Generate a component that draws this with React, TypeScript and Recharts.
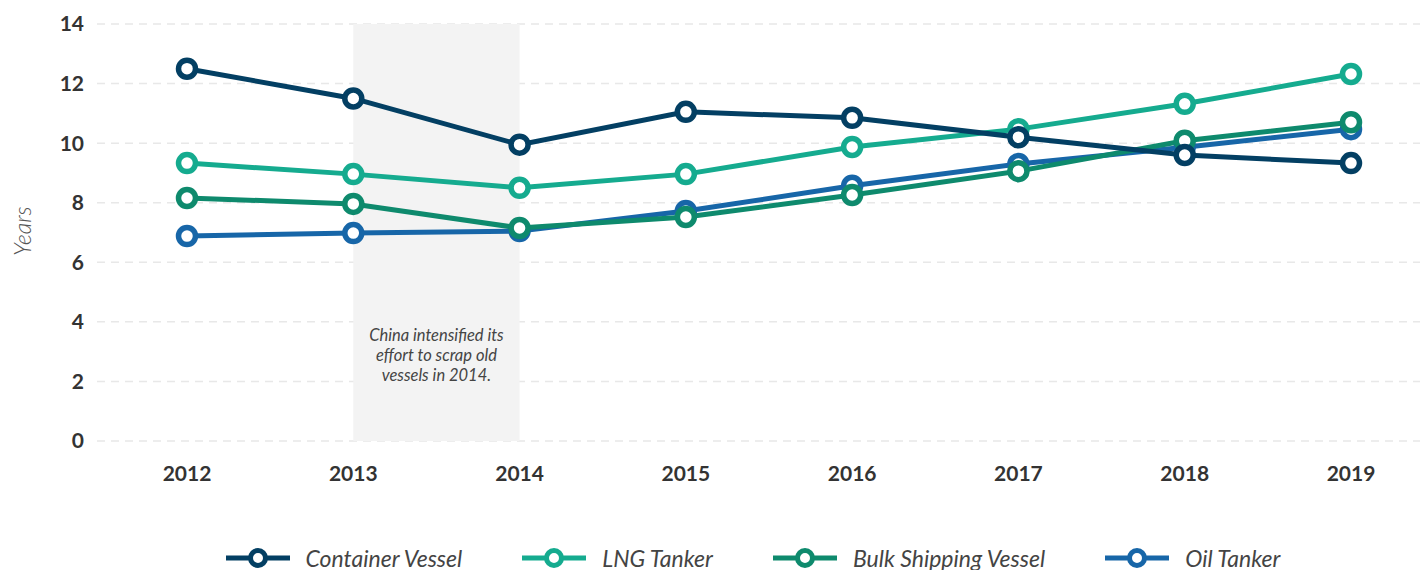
import {
  CartesianGrid,
  Legend,
  Line,
  LineChart,
  ReferenceArea,
  XAxis,
  YAxis
} from "recharts";

const years = ["2012", "2013", "2014", "2015", "2016", "2017", "2018", "2019"];
const containerVessel = [12.5, 11.5, 9.95, 11.05, 10.85, 10.2, 9.6, 9.33];
const lngTanker = [9.33, 8.96, 8.5, 8.96, 9.87, 10.47, 11.32, 12.32];
const bulkShipping = [8.16, 7.96, 7.15, 7.52, 8.26, 9.06, 10.08, 10.7];
const oilTanker = [6.88, 6.98, 7.05, 7.72, 8.57, 9.3, 9.86, 10.47];
const yTicks = [0, 2, 4, 6, 8, 10, 12, 14];
const noteLines = ["China intensified its", "effort to scrap old", "vessels in 2014."];

// legend order differs from draw order (container drawn last so it sits on top)
const series = [
  { key: "container", name: "Container Vessel", color: "#033f63", values: containerVessel },
  { key: "lng", name: "LNG Tanker", color: "#15ab8f", values: lngTanker },
  { key: "bulk", name: "Bulk Shipping Vessel", color: "#0e8a6d", values: bulkShipping },
  { key: "oil", name: "Oil Tanker", color: "#1766a8", values: oilTanker }
];
const drawOrder = ["oil", "bulk", "lng", "container"];

const data = years.map((year, i) => {
  const row: { [k: string]: string | number } = { year };
  series.forEach((s) => {
    row[s.key] = s.values[i];
  });
  return row;
});

const tickStyle = { fill: "#333", fontFamily: "Lato", fontWeight: 700, fontSize: 21 };

function NoteLabel(props: { viewBox?: { x: number; y: number; width: number; height: number } }) {
  const vb = props.viewBox;
  if (!vb) return null;
  const cx = vb.x + vb.width / 2;
  const bottom = vb.y + vb.height;
  return (
    <text
      x={cx}
      y={bottom - 106}
      textAnchor="middle"
      fontFamily="Lato"
      fontStyle="italic"
      fontSize={16.5}
      fill="#444"
    >
      {noteLines.map((line, i) => (
        <tspan key={line} x={cx} dy={i === 0 ? 6 : 20}>
          {line}
        </tspan>
      ))}
    </text>
  );
}

function YearsLabel() {
  return (
    <text
      x={22}
      y={231}
      transform="rotate(-90, 22, 231)"
      textAnchor="middle"
      dominantBaseline="central"
      fontFamily="Lato"
      fontStyle="italic"
      fontWeight={300}
      fontSize={23}
      fill="#555"
    >
      Years
    </text>
  );
}

function LegendContent() {
  return (
    <div
      style={{
        display: "flex",
        justifyContent: "center",
        alignItems: "center",
        height: 30,
        paddingLeft: 80,
        gap: 60,
        fontFamily: "Lato",
        fontStyle: "italic",
        fontWeight: 400,
        fontSize: 23,
        color: "#444"
      }}
    >
      {series.map((s) => (
        <div key={s.key} style={{ display: "flex", alignItems: "center", gap: 16 }}>
          <svg width={64} height={22}>
            <line x1={0} y1={11} x2={64} y2={11} stroke={s.color} strokeWidth={5} />
            <circle cx={32} cy={11} r={7.5} fill="#fff" stroke={s.color} strokeWidth={5} />
          </svg>
          <span>{s.name}</span>
        </div>
      ))}
    </div>
  );
}

export default function App() {
  return (
    <div style={{ position: "absolute", left: 0, top: 0, width: 1426, height: 570, overflow: "hidden" }}>
      <LineChart width={1426} height={570} data={data} margin={{ top: 24, right: 6, bottom: 39, left: 0 }}>
        <CartesianGrid vertical={false} stroke="#e8e8e8" strokeWidth={1.5} strokeDasharray="8 6" />
        <ReferenceArea
          x1="2013"
          x2="2014"
          y1={0}
          y2={14}
          fill="#f3f3f3"
          fillOpacity={1}
          stroke="none"
          label={<NoteLabel />}
        />
        <XAxis
          dataKey="year"
          axisLine={false}
          tickLine={false}
          tickMargin={19}
          height={60}
          padding={{ left: 90, right: 69 }}
          tick={tickStyle}
        />
        <YAxis
          domain={[0, 14]}
          ticks={yTicks}
          axisLine={false}
          tickLine={false}
          tickMargin={7}
          width={97}
          tick={tickStyle}
          label={<YearsLabel />}
        />
        <Legend
          verticalAlign="bottom"
          height={30}
          wrapperStyle={{ top: 543, bottom: "auto", left: 0, width: 1426 }}
          content={<LegendContent />}
        />
        {drawOrder.map((key) => {
          const s = series.find((item) => item.key === key)!;
          return (
            <Line
              key={s.key}
              type="linear"
              dataKey={s.key}
              name={s.name}
              stroke={s.color}
              strokeWidth={5}
              dot={{ r: 8.5, strokeWidth: 5.5, fill: "#fff", stroke: s.color }}
              activeDot={false}
              isAnimationActive={false}
            />
          );
        })}
      </LineChart>
    </div>
  );
}
